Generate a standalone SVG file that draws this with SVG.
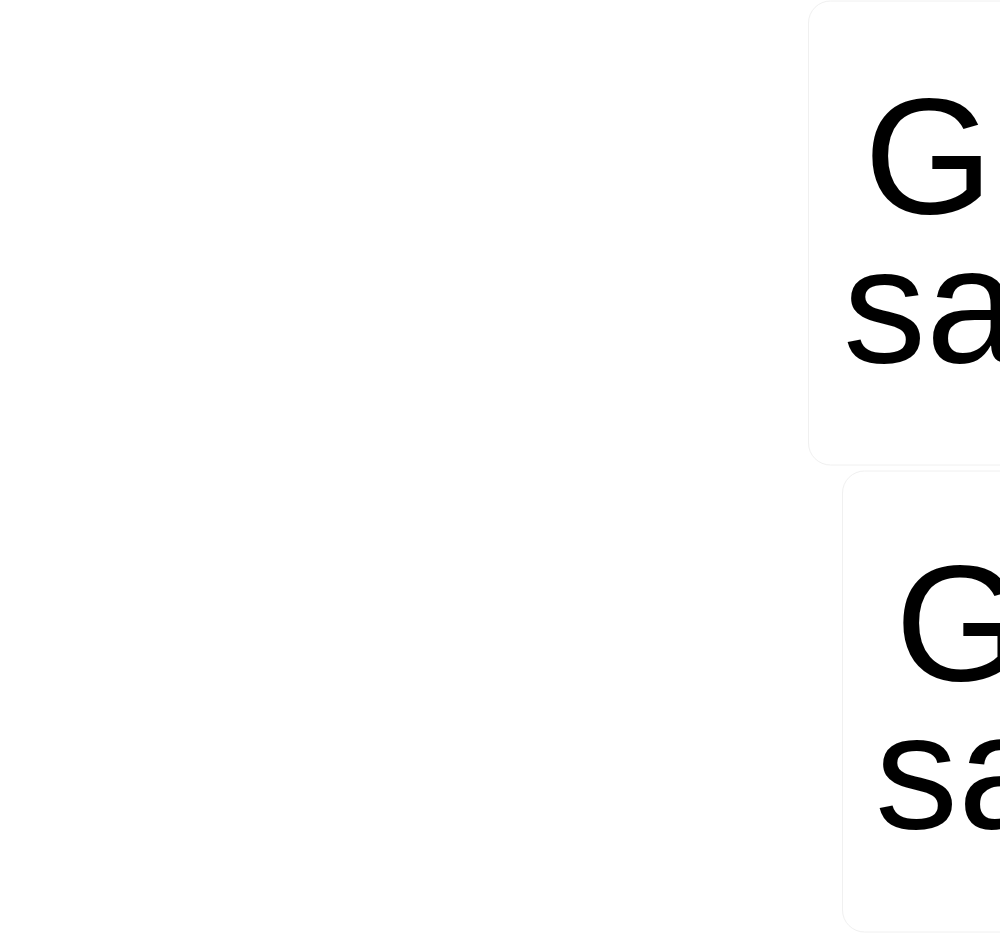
<svg xmlns="http://www.w3.org/2000/svg" width="1000" height="934" viewBox="0 0 1000 934">
<style>
.box{fill:#ffffff;stroke:#f0f0f0;stroke-width:1}
.lbl{font-family:"Liberation Sans",Arial,sans-serif;font-size:166px;fill:#000000}
</style>
<rect x="0" y="0" width="1000" height="934" fill="#ffffff"/>
<g id="node1">
<rect class="box" x="808.5" y="1" width="260" height="464" rx="22"/>
<text class="lbl" x="864" y="213">G</text>
<text class="lbl" x="843" y="362">sa</text>
</g>
<g id="node2">
<rect class="box" x="842.5" y="471" width="260" height="461" rx="22"/>
<text class="lbl" x="895" y="680">G</text>
<text class="lbl" x="875" y="828">sa</text>
</g>
<g id="connectors"></g>
</svg>
